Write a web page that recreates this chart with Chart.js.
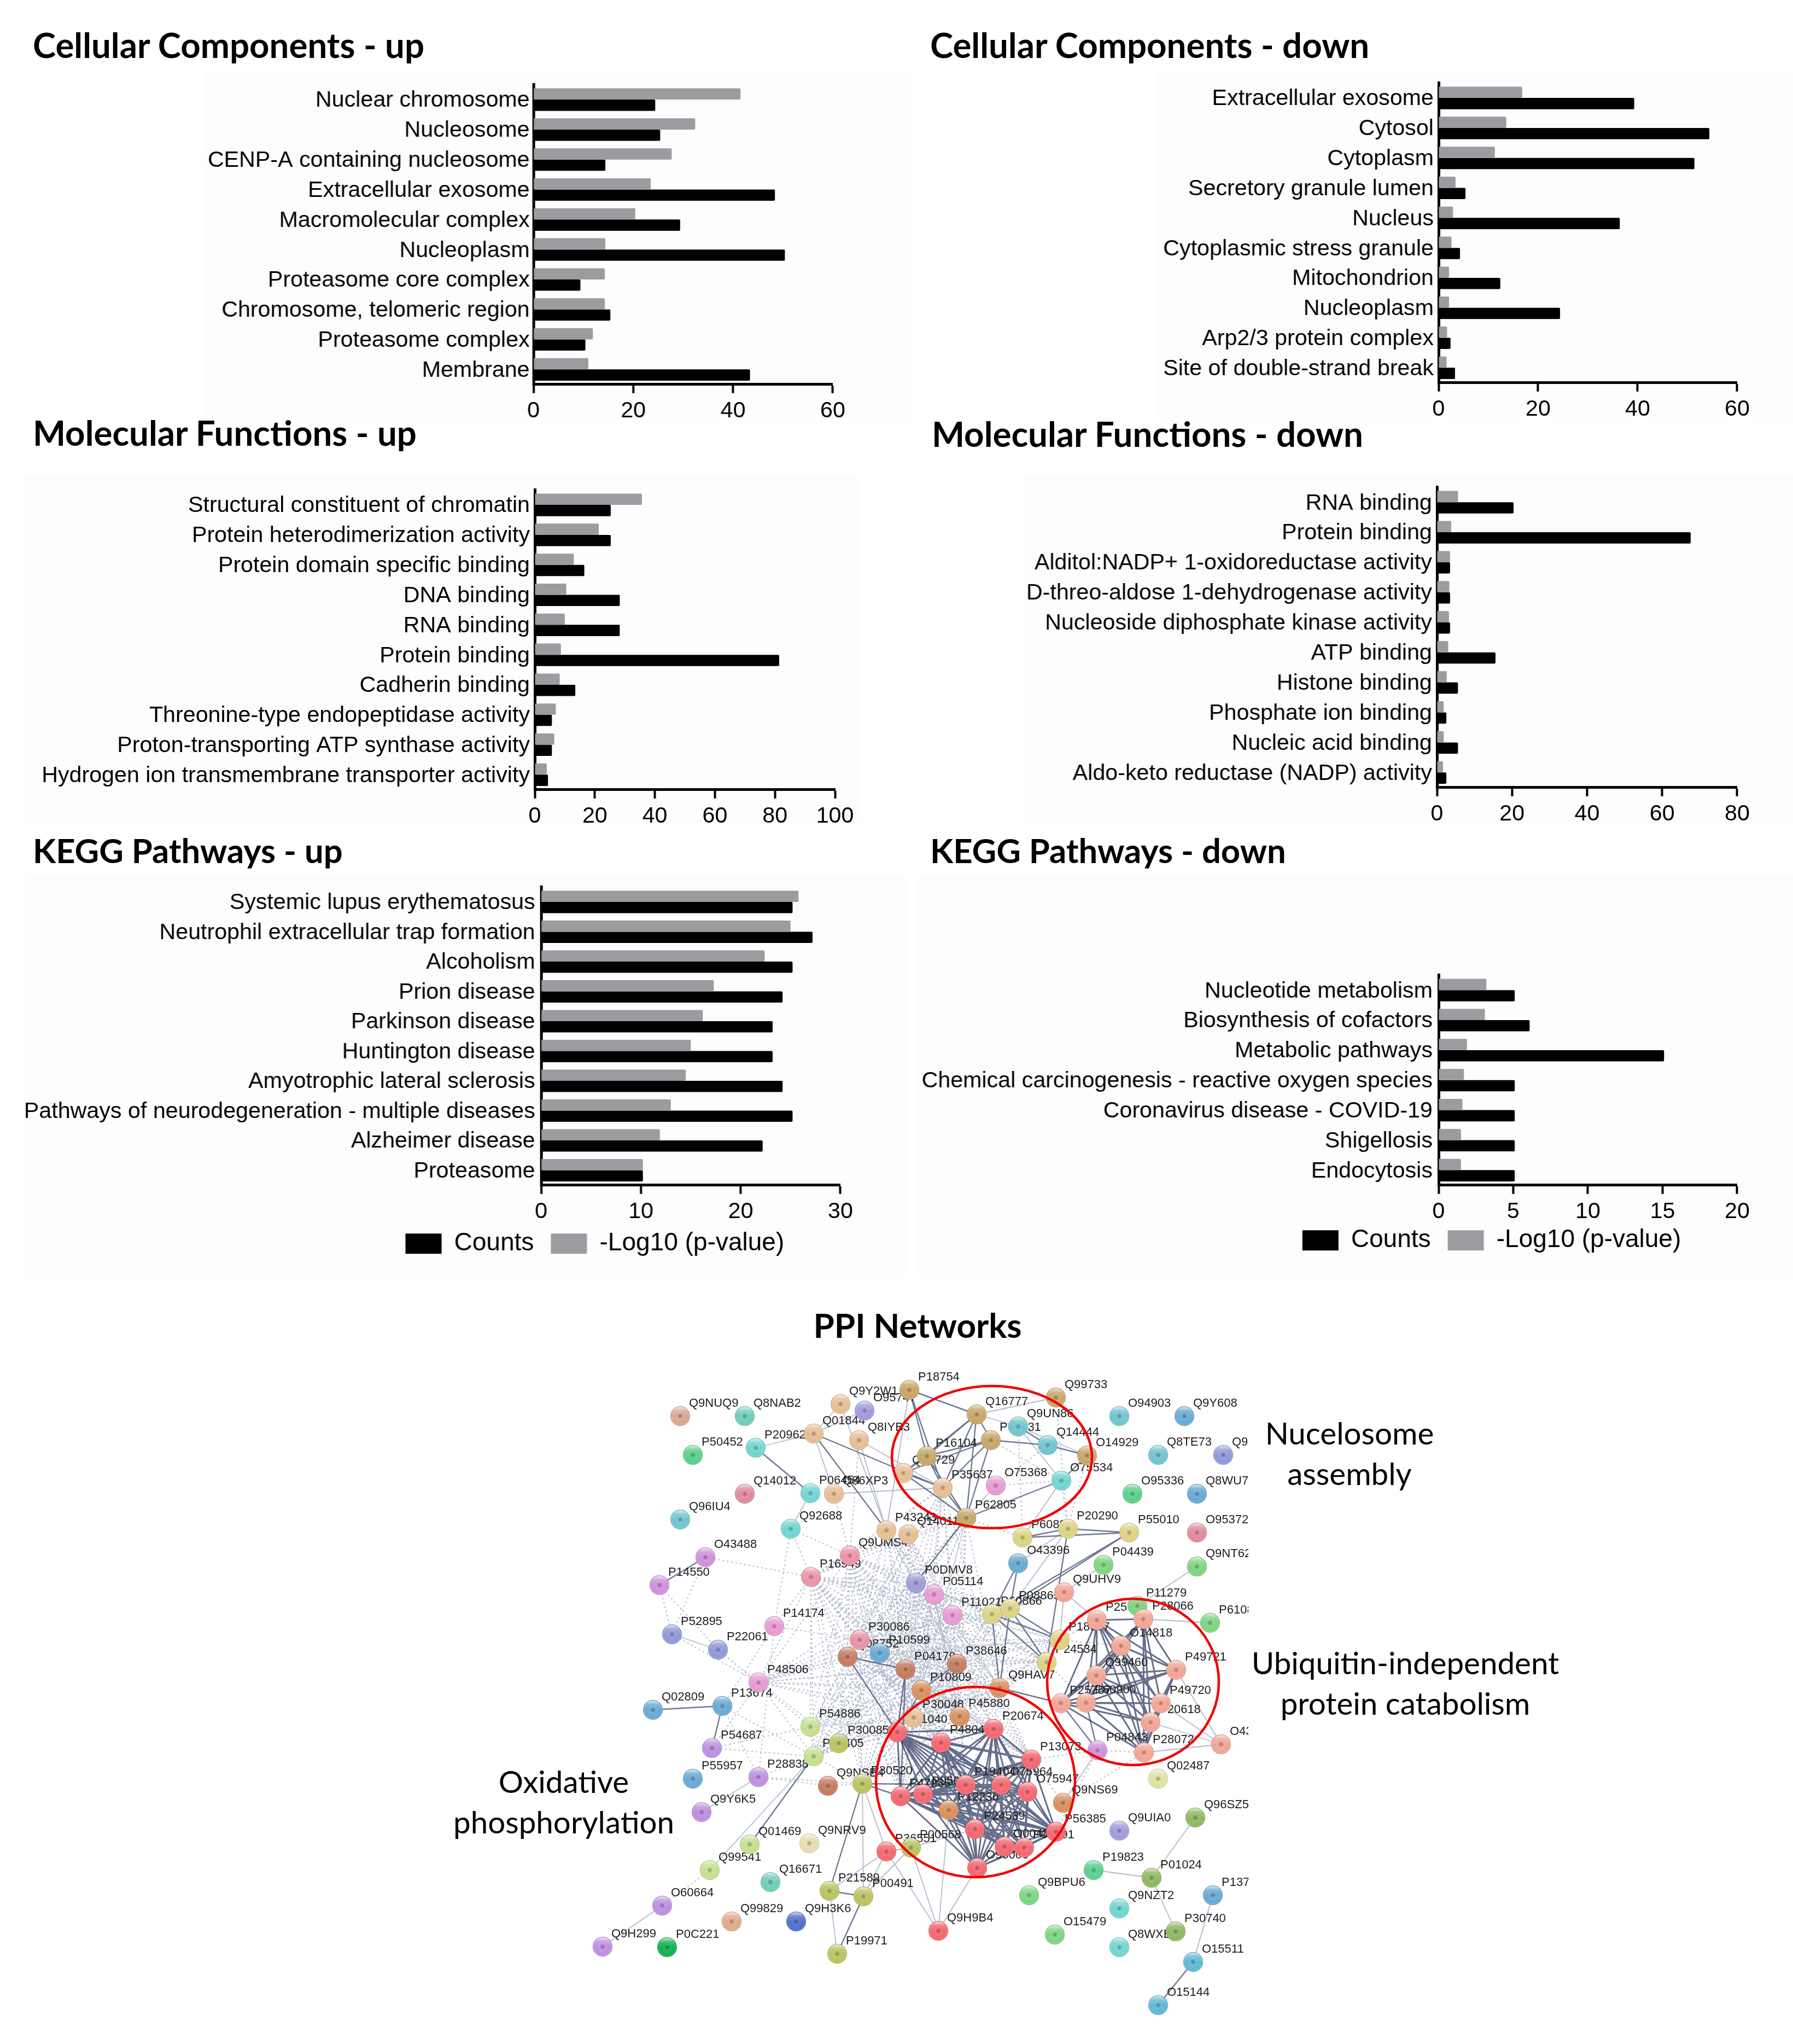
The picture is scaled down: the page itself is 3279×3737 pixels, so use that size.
<!DOCTYPE html>
<html><head><meta charset="utf-8">
<script src="https://cdn.jsdelivr.net/npm/chart.js@4/dist/chart.umd.min.js"></script>
<style>
html,body{margin:0;padding:0;background:#fff;}
#page{position:relative;width:3279px;height:3737px;overflow:hidden;background:#fff;}
canvas{position:absolute;}
.bg{position:absolute;background:#fdfdfd;}
.t{position:absolute;font-family:Lato,"Open Sans",sans-serif;color:#000;white-space:pre;line-height:1;}
.h{font-weight:700;font-size:63.6px;}
.a{font-weight:400;font-size:56.5px;text-align:center;transform:translateX(-50%);line-height:74px;}
</style></head><body><div id="page"></div>
<script>
/* ---------- bar panels ---------- */
const ccUpLabels=["Nuclear chromosome","Nucleosome","CENP-A containing nucleosome","Extracellular exosome","Macromolecular complex","Nucleoplasm","Proteasome core complex","Chromosome, telomeric region","Proteasome complex","Membrane"];
const ccUpLog=[41.5,32.4,27.7,23.5,20.4,14.4,14.3,14.3,11.9,11.0];
const ccUpCounts=[24.4,25.4,14.4,48.4,29.4,50.4,9.4,15.4,10.4,43.4];
const ccDownLabels=["Extracellular exosome","Cytosol","Cytoplasm","Secretory granule lumen","Nucleus","Cytoplasmic stress granule","Mitochondrion","Nucleoplasm","Arp2/3 protein complex","Site of double-strand break"];
const ccDownLog=[16.8,13.6,11.3,3.4,2.9,2.6,2.1,2.1,1.7,1.6];
const ccDownCounts=[39.3,54.4,51.4,5.4,36.4,4.3,12.4,24.4,2.4,3.3];
const mfUpLabels=["Structural constituent of chromatin","Protein heterodimerization activity","Protein domain specific binding","DNA binding","RNA binding","Protein binding","Cadherin binding","Threonine-type endopeptidase activity","Proton-transporting ATP synthase activity","Hydrogen ion transmembrane transporter activity"];
const mfUpLog=[35.7,21.3,13,10.5,10,8.7,8.3,7,6.5,4];
const mfUpCounts=[25.3,25.3,16.5,28.3,28.3,81.4,13.5,5.7,5.7,4.4];
const mfDownLabels=["RNA binding","Protein binding","Alditol:NADP+ 1-oxidoreductase activity","D-threo-aldose 1-dehydrogenase activity","Nucleoside diphosphate kinase activity","ATP binding","Histone binding","Phosphate ion binding","Nucleic acid binding","Aldo-keto reductase (NADP) activity"];
const mfDownLog=[5.6,3.8,3.5,3.3,3.2,3,2.6,1.8,1.8,1.6];
const mfDownCounts=[20.4,67.6,3.5,3.5,3.5,15.6,5.6,2.5,5.6,2.5];
const keggUpLabels=["Systemic lupus erythematosus","Neutrophil extracellular trap formation","Alcoholism","Prion disease","Parkinson disease","Huntington disease","Amyotrophic lateral sclerosis","Pathways of neurodegeneration - multiple diseases","Alzheimer disease","Proteasome"];
const keggUpLog=[25.8,25,22.4,17.3,16.2,15,14.5,13,11.9,10.2];
const keggUpCounts=[25.2,27.2,25.2,24.2,23.2,23.2,24.2,25.2,22.2,10.2];
const keggDownLabels=["Nucleotide metabolism","Biosynthesis of cofactors","Metabolic pathways","Chemical carcinogenesis - reactive oxygen species","Coronavirus disease - COVID-19","Shigellosis","Endocytosis"];
const keggDownLog=[3.2,3.1,1.9,1.7,1.6,1.5,1.5];
const keggDownCounts=[5.1,6.1,15.1,5.1,5.1,5.1,5.1];
const seriesNames=["-Log10 (p-value)","Counts"];

/* ---------- network: node readings, reference pixels ---------- */
const nodeNames=["Q9NUQ9","Q8NAB2","Q9Y2W1","O95747","P18754","Q01844","Q8IYB3","P50452","P20962","Q14012","P06454","Q86XP3","Q96IU4","Q92688","O43488","P14550","P16949","Q9UMS4","P43243","Q14011","P14174","P52895","P22061","P48506","P30086","Q08752","P10599","P04179","P10809","Q99729",
"Q16777","Q99733","Q9UN86","P68431","Q14444","O14929","P16104","P35637","O75368","O75534","P62805","O94903","Q9Y608","Q8TE73","Q9H0A0","O95336","Q8WU79","P60891","P20290","P55010","O95372","O43396","P04439","Q9NT62","P0DMV8","P05114","Q9UHV9","P11021","P60866","P08865","P11279","P28066","P25789","P61088","P18077","O14818","P24534","P38646","Q99460","P49721","Q9HAV7",
"P49720","P25787","P60900","P20618","P04843","P28072","O43242","Q02487","Q9NS69","P56385","Q9UIA0","Q96SZ5","P19823","P01024","Q9BPU6","Q9NZT2","P13796","O15479","P30740","Q8WXE9","O15511","O15144","Q9H9B4","P45880","P30048","P31040","P48047","P20674","P13073","P19404","O75964","O75947","P12236","P24539","O00483","P03891","O96000","P05026","P47985","P00568",
"P13674","Q02809","P54886","P30085","P30405","P54687","P55957","P28838","Q9Y6K5","Q9NSE4","P30520","Q01469","Q9NRV9","Q99541","Q16671","O60664","P21589","P00491","Q99829","Q9H3K6","P19971","P0C221","Q9H299","P36551"];
const nodeX=[1244,1362,1537,1581,1663,1488,1571,1267,1382,1362,1482,1525,1244,1446,1290,1206,1483,1554,1621,1661,1416,1229,1313,1387,1572,1550,1609,1656,1685,1652,
1786,1931,1862,1812,1916,1988,1695,1724,1821,1941,1767,2047,2166,2118,2237,2071,2189,1870,1953,2065,2189,1862,2018,2189,1675,1708,1946,1742,1814,1847,2080,2091,2006,2213,1938,2050,1914,1750,2005,2151,1828,
2123,1940,1986,2104,2007,2092,2233,2118,1944,1931,2047,2186,2000,2106,1882,2047,2218,1929,2150,2047,2182,2118,1716,1755,1671,1641,1721,1817,1886,1766,1831,1879,1735,1783,1837,1873,1787,1688,1647,1666,
1321,1194,1482,1534,1488,1302,1267,1387,1283,1514,1577,1371,1480,1298,1409,1211,1517,1579,1338,1456,1531,1220,1102,1621];
const nodeY=[2589,2589,2567,2579,2541,2621,2633,2660,2647,2731,2730,2731,2778,2795,2847,2898,2883,2844,2798,2805,2973,2988,3016,3076,2998,3029,3022,3052,3090,2693,
2586,2555,2608,2633,2642,2661,2662,2720,2716,2707,2775,2589,2589,2660,2660,2731,2731,2811,2795,2802,2802,2858,2861,2864,2894,2915,2911,2953,2951,2941,2936,2960,2962,2967,2998,3009,3039,3042,3063,3053,3086,
3114,3114,3113,3149,3200,3204,3189,3252,3296,3349,3347,3323,3419,3433,3465,3489,3465,3537,3531,3560,3587,3666,3530,3138,3140,3167,3186,3161,3217,3263,3263,3276,3309,3344,3376,3378,3415,3280,3284,3378,
3119,3126,3157,3187,3211,3196,3252,3249,3313,3265,3261,3372,3370,3419,3441,3484,3457,3467,3513,3513,3572,3560,3559,3385];
const colorGroups={
"#e6bd93":["Q9Y2W1","Q01844","Q8IYB3","Q86XP3","P43243","Q14011","Q99729","P35637","P30048"],
"#d9a68f":["Q9NUQ9"],"#6fcdb8":["Q8NAB2","Q16671"],"#a09bd8":["O95747","P0DMV8","Q9UIA0"],
"#c7a565":["P18754","Q16777","P68431","P62805","Q99733","O14929","P16104"],
"#58cf8a":["P50452","O95336","P19823"],"#6fd6cf":["P20962","P06454","Q92688","O75534","Q8WXE9","Q9NZT2"],
"#e08a9b":["Q14012","O95372"],"#6fc4d0":["Q96IU4","O94903","Q9UN86","Q14444","Q8TE73"],"#d08fdc":["O43488","P14550","P04843"],
"#ea93a6":["P16949","Q9UMS4","P30086"],"#e79ad2":["P14174","P05114","O75368","P11021","P48506"],"#8f98d8":["P52895","P22061","Q9H0A0"],
"#c47a5f":["Q08752","P04179","P38646","Q9NSE4"],"#68a9d2":["P10599","Q9Y608","O43396","Q8WU79","Q02809","P13674","P55957","P13796"],
"#d88f5c":["P10809","Q9HAV7","P45880","Q9NS69","P12236"],"#dcd283":["P60891","P20290","P55010","P60866","P08865","P24534","P18077"],
"#7bd57f":["P04439","Q9NT62","P11279","P61088","Q9BPU6","O15479"],"#f2a493":["Q9UHV9","P28066","P25789","O14818","Q99460","P49721","P49720","P25787","P60900","P20618","P28072","O43242"],
"#e0e2a2":["Q02487"],"#8cb860":["Q96SZ5","P01024","P30740"],"#f4666f":["P31040","P48047","P20674","P13073","P19404","O75964","O75947","P24539","O00483","P03891","O96000","P05026","P47985","P56385","P36551","Q9H9B4"],
"#b9c35f":["P30085","P30520","P00568","P21589","P00491","P19971"],"#c3e08f":["P54886","P30405","Q01469","Q99541"],
"#bd8fe0":["P54687","P28838","Q9Y6K5","O60664","Q9H299"],"#e8dcb0":["Q9NRV9"],"#e3a98a":["Q99829"],"#4f6fc8":["Q9H3K6"],"#10b050":["P0C221"],"#5fb8d8":["O15511","O15144"]
};
const ellipses=[[1814,2664,183,130],[2072,3075,157,152],[1784,3258,182,174]];
const cliqueOxphos=["P31040","P47985","P05026","P48047","P20674","P13073","P19404","O75964","O75947","P12236","P24539","O00483","P03891","O96000","P56385"];
const cliqueProteasome=["P25787","P60900","P49720","P20618","P28072","P28066","P25789","O14818","Q99460","P49721"];
const cliqueHistone=["P62805","P68431","Q16777","P35637","P16104","Q99729"];
const hubsCentral=["P30086","P16949","Q9UMS4","P0DMV8","P05114","P11021","P38646","P04179","P10809","Q08752","P10599","P30048","P45880","Q9HAV7"];
const dottedTargets=["P31040","P48047","P20674","P47985","P19404","P13073","P30520","P30085","P30405","P54886","P60866","P08865","P24534","P18077","Q14011","P43243","P48506","P62805","P35637"];
const edgesMedium=["P20962-P06454","O43488-P14550","P13674-Q02809","P13674-P54687","P30405-Q01469","P30520-P21589","P21589-P00491","P00491-P19971","O15511-O15144","P55010-P60891","P55010-P20290","P20290-P60891","P55010-P08865","P55010-P60866","P20290-P24534","O75534-O14929","O75534-P62805","P62805-P0DMV8","Q01844-P35637","Q01844-P43243","Q14444-O14929","Q14444-P68431","Q14444-Q9UN86","Q16777-P18754","P18754-P35637","P16104-P18754","O43396-P60866","O43396-P08865","P08865-Q9HAV7","P60866-Q9HAV7","P08865-P24534","P60866-P24534","P08865-P18077","P60866-P18077","P25787-P04843","P60900-P04843","P25787-Q9HAV7","P19404-P30520","P47985-P30520","P31040-Q08752","P31040-P10809","P47985-P04179","P31040-P04179","P10809-P38646","Q08752-P04179"];
const edgesThin=["Q92688-P06454","P52895-P22061","P28838-Q9Y6K5","Q9H299-O60664","P30405-Q99541","P30520-P00491","P21589-P19971","P21589-P36551","P00491-P00568","Q9H9B4-P36551","Q9H9B4-P00568","Q9H9B4-O96000","Q9H9B4-P12236","Q96SZ5-P01024","P19823-P01024","P01024-P30740","P13796-O15511","Q9NT62-P11279","Q9UHV9-P04439","O43242-P28072","O43242-P20618","O43242-P49720","O43242-P49721","P61088-P28066","P20962-Q01844","Q01844-Q86XP3","Q86XP3-P35637","Q01844-Q9Y2W1","Q9Y2W1-P43243","Q8IYB3-P43243","Q8IYB3-P35637","O95747-Q01844","P18754-P43243","Q16777-Q99733","Q16777-Q9UN86","Q9UN86-O14929","Q9UN86-O75534","O75534-P60891","O75368-P62805","P20290-O43396","P20290-P08865","Q9UHV9-P08865","Q9UHV9-P18077","Q9UHV9-P25789","P04843-Q9NS69","P05114-P45880","P30520-P36551","P00491-P36551","P36551-P00568","P00568-P24539","P30405-P30085"];
const edgesDotted=["O43488-P16949","P14550-P52895","P14550-P22061","O43488-P52895","P52895-P48506","P22061-P48506","P14174-Q92688","P14174-P13674","P14174-P30086","P14174-P16949","P14174-P28838","P48506-Q08752","P48506-P54687","P48506-P30085","P48506-P30405","P54687-P54886","P54687-P30405","P28838-P30405","P28838-Q9NSE4","P28838-P30520","P13674-P28838","P13674-P30405","P54886-P30405","P22061-P54886","Q99541-O60664","P16949-P30086","P16949-Q92688","P16949-Q08752","Q92688-Q9UMS4","Q86XP3-Q9UMS4","Q8IYB3-Q9UMS4","Q9UMS4-P30086","Q14011-P0DMV8","P43243-P0DMV8","Q9NSE4-P30520","P30405-P30520","P30405-P31040","O75368-Q14444","O75368-O75534","P68431-O75534","Q9UN86-P60891","P20290-O75534","Q99733-P20290","O14929-P20290","P62805-P60891","P13073-P04843","P13073-Q9NS69","P04843-P28072","O14818-P18077","P25789-P18077","Q9HAV7-P25787","P24534-P60900","P56385-P04843","Q9NS69-P28072"];

/* ---------- fixed shapes of each panel on the page ---------- */
const GRAY="#9b9ba0",BLACK="#000000";
const page=document.getElementById('page');
function div(cls,text,x,y,extra){const d=document.createElement('div');d.className=cls;d.textContent=text;d.style.left=x+'px';d.style.top=y+'px';if(extra)Object.assign(d.style,extra);page.appendChild(d);return d;}
[[370,131,1300,634],[2112,131,1167,634],[43,871,1532,634],[1873,871,1406,634],[48,1600,1610,738],[1678,1600,1601,738]].forEach(b=>{const d=div('bg','',b[0],b[1]);d.style.width=b[2]+'px';d.style.height=b[3]+'px';});
[["Cellular Components - up",60,50],["Cellular Components - down",1701,50],["Molecular Functions - up",60,759],["Molecular Functions - down",1704,761]].forEach(t=>div('t h',t[0],t[1],t[2]));
[["KEGG Pathways - up",60,1524],["KEGG Pathways - down",1701,1524]].forEach(t=>div('t h',t[0],t[1],t[2],{fontSize:'61.5px'}));
div('t h',"PPI Networks",1678,2391,{transform:'translateX(-50%)',fontSize:'62px'});
div('t a',"Nucelosome\nassembly",2468,2582);
div('t a',"Ubiquitin-independent\nprotein catabolism",2570,3002);
div('t a',"Oxidative\nphosphorylation",1031,3219);

const TICKFONT={family:'"Liberation Sans",Arial,sans-serif',size:41.2};
function panel(labels,log,counts,xMax,step,t,legend){
  const c=document.createElement('canvas');c.width=t.x+t.w+80-30;c.height=t.b-t.t+200;page.appendChild(c);
  const yW=t.x-30;
  const shift={id:'legendAt',afterLayout(ch){ if(!legend)return; const l=ch.legend,a=ch.chartArea,p=l.options.labels.padding,w=l.width,h=l.height;
    l.left=a.left+(legend.x-t.x)-p; l.right=l.left+w; l.top=a.bottom+(legend.y-t.b)-p; l.bottom=l.top+h; }};
  const ch=new Chart(c,{type:'bar',plugins:[shift],data:{labels:labels,datasets:[
    {label:seriesNames[0],data:log,backgroundColor:GRAY,borderRadius:2,barPercentage:1,categoryPercentage:.75},
    {label:seriesNames[1],data:counts,backgroundColor:BLACK,borderRadius:2,barPercentage:1,categoryPercentage:.75}]},
   options:{indexAxis:'y',responsive:false,maintainAspectRatio:false,animation:false,events:[],layout:{padding:0},
    plugins:{tooltip:{enabled:false},title:{display:false},
      legend:{display:!!legend,position:'bottom',align:'start',reverse:true,labels:{boxWidth:66,boxHeight:37,padding:31,color:'#000',font:{family:TICKFONT.family,size:46}}}},
    scales:{
     x:{type:'linear',min:0,max:xMax,ticks:{stepSize:step,autoSkip:false,maxRotation:0,color:'#000',font:TICKFONT,padding:8},
        grid:{drawOnChartArea:false,drawTicks:true,tickLength:16,tickWidth:4,tickColor:'#000'},border:{color:'#000',width:5}},
     y:{type:'category',afterFit(s){s.width=yW;},ticks:{autoSkip:false,color:'#000',font:TICKFONT,padding:t.pad,labelOffset:2},
        grid:{display:false,drawTicks:false},border:{display:true,color:'#000',width:5}}}}});
  const a=ch.chartArea; ch.resize(ch.width+(t.w-a.width),ch.height+((t.b-t.t)-a.height));
  const b=ch.chartArea; c.style.left=(t.x-b.left)+'px'; c.style.top=(t.t-b.top)+'px';
  return ch;
}
panel(ccUpLabels,ccUpLog,ccUpCounts,60,20,{x:975,w:547,t:155,b:703,pad:7});
panel(ccDownLabels,ccDownLog,ccDownCounts,60,20,{x:2630,w:546,t:152,b:700,pad:9});
panel(mfUpLabels,mfUpLog,mfUpCounts,100,20,{x:978,w:549,t:896,b:1444,pad:9});
panel(mfDownLabels,mfDownLog,mfDownCounts,80,20,{x:2627,w:549,t:891,b:1440,pad:9});
panel(keggUpLabels,keggUpLog,keggUpCounts,30,10,{x:989,w:547,t:1622,b:2167,pad:11},{x:741,y:2251});
panel(keggDownLabels,keggDownLog,keggDownCounts,20,5,{x:2630,w:546,t:1783,b:2167,pad:11},{x:2381,y:2245});

/* ---------- network ---------- */
const idx={};nodeNames.forEach((n,i)=>idx[n]=i);
const colorOf={};Object.keys(colorGroups).forEach(k=>colorGroups[k].forEach(n=>colorOf[n]=k));
function allPairs(l){const o=[];l.forEach((a,i)=>l.slice(i+1).forEach(b=>o.push(a+'-'+b)));return o;}
function cross(l,m){const o=[];l.forEach(a=>m.forEach(b=>{if(a!==b)o.push(a+'-'+b);}));return o;}
function linePts(list){const o=[];list.forEach(e=>{const [a,b]=e.split('-');if(idx[a]===undefined||idx[b]===undefined)return;
  o.push({x:nodeX[idx[a]],y:nodeY[idx[a]]},{x:nodeX[idx[b]],y:nodeY[idx[b]]},{x:NaN,y:NaN});});return o;}
const edgeThick=allPairs(cliqueOxphos).concat(allPairs(cliqueProteasome));
const edgeMed=edgesMedium.concat(allPairs(cliqueHistone));
const edgeDot=edgesDotted.concat(allPairs(hubsCentral),cross(hubsCentral,dottedTargets));
function shade(hex,f,al){const n=parseInt(hex.slice(1),16);let r=n>>16,g=(n>>8)&255,b=n&255;
  const m=v=>Math.round(f>=0?v+(255-v)*f:v*(1+f));return `rgba(${m(r)},${m(g)},${m(b)},${al===undefined?1:al})`;}
const nodePts=nodeNames.map((n,i)=>({x:nodeX[i],y:nodeY[i]}));
const NR=18;
const NX0=1060,NX1=2283,NY0=2480,NY1=3737;
const netC=document.createElement('canvas');netC.width=NX1-NX0;netC.height=NY1-NY0;netC.style.left=NX0+'px';netC.style.top=NY0+'px';page.appendChild(netC);
const edgeSet=(data,color,w,dash,order)=>({type:'scatter',showLine:true,spanGaps:false,data:linePts(data),borderColor:color,borderWidth:w,borderDash:dash,pointRadius:0,order:order,clip:false});
function sphere(ctx){const ch=ctx.chart,i=ctx.dataIndex; if(i===undefined)return '#cccccc';
  const base=colorOf[nodeNames[i]]||'#cccccc';
  const x=ch.scales.x.getPixelForValue(nodeX[i]),y=ch.scales.y.getPixelForValue(nodeY[i]);
  if(!isFinite(x)||!isFinite(y))return base;
  const g=ch.ctx.createRadialGradient(x,y+2,1,x,y,NR+1);g.addColorStop(0,shade(base,.14));g.addColorStop(.62,base);g.addColorStop(.86,shade(base,.1));g.addColorStop(1,shade(base,-.32));return g;}
function gloss(ctx){const ch=ctx.chart,i=ctx.dataIndex; if(i===undefined)return 'rgba(0,0,0,0)';
  const x=ch.scales.x.getPixelForValue(nodeX[i]),y=ch.scales.y.getPixelForValue(nodeY[i]);
  if(!isFinite(x)||!isFinite(y))return 'rgba(0,0,0,0)';
  const g=ch.ctx.createLinearGradient(x,y-NR,x,y);g.addColorStop(0,'rgba(255,255,255,.75)');g.addColorStop(.5,'rgba(255,255,255,.15)');g.addColorStop(1,'rgba(255,255,255,0)');return g;}
const NODE_DS=5;
const netLabels={id:'netLabels',beforeDatasetDraw(ch,args){ if(args.index!==NODE_DS)return; const c=ch.ctx;c.save();c.font='22px "Liberation Sans",Arial,sans-serif';c.fillStyle='#1c1c1c';c.textAlign='left';c.textBaseline='middle';
   nodeNames.forEach((n,i)=>c.fillText(n,ch.scales.x.getPixelForValue(nodeX[i])+16,ch.scales.y.getPixelForValue(nodeY[i])-23));c.restore();}};
const netRings={id:'netRings',afterDraw(ch){const c=ch.ctx,sx=ch.scales.x,sy=ch.scales.y;c.save();c.strokeStyle='#f00000';c.lineWidth=4.5;
   ellipses.forEach(e=>{c.beginPath();c.ellipse(sx.getPixelForValue(e[0]),sy.getPixelForValue(e[1]),e[2],e[3],0,0,Math.PI*2);c.stroke();});c.restore();}};
const netChart=new Chart(netC,{type:'scatter',plugins:[netLabels,netRings],data:{datasets:[
  edgeSet(edgeThick,'rgba(50,62,100,.75)',3,[],8),
  edgeSet(edgeMed,'rgba(86,98,132,.85)',2.4,[],9),
  edgeSet(edgesThin,'rgba(170,178,200,.9)',1.8,[],10),
  edgeSet(edgeDot,'rgba(110,122,155,.5)',2,[3,5],11),
  {type:'scatter',data:nodePts,pointStyle:'star',pointRadius:5,pointBorderWidth:1.2,pointBorderColor:ctx=>shade(colorOf[nodeNames[ctx.dataIndex]]||'#cccccc',-.4,.7),order:1,clip:false},
  {type:'scatter',data:nodePts,pointStyle:'circle',pointRadius:NR,pointBorderWidth:0,pointBackgroundColor:sphere,order:3,clip:false},
  {type:'scatter',data:nodePts,pointStyle:'circle',pointRadius:NR-1,pointBorderWidth:0,pointBackgroundColor:gloss,order:0,clip:false}
 ]},options:{responsive:false,maintainAspectRatio:false,animation:false,events:[],layout:{padding:0},
  plugins:{legend:{display:false},tooltip:{enabled:false}},
  scales:{x:{type:'linear',display:false,min:NX0,max:NX1},y:{type:'linear',display:false,min:NY0,max:NY1,reverse:true}}}});
/* the layout insets the plot by the point overflow: set the scale range so a reading lands on its reference pixel */
const na=netChart.chartArea;
netChart.options.scales.x.min=NX0+na.left;netChart.options.scales.x.max=NX0+na.right;
netChart.options.scales.y.min=NY0+na.top;netChart.options.scales.y.max=NY0+na.bottom;
netChart.update();
</script></body></html>
